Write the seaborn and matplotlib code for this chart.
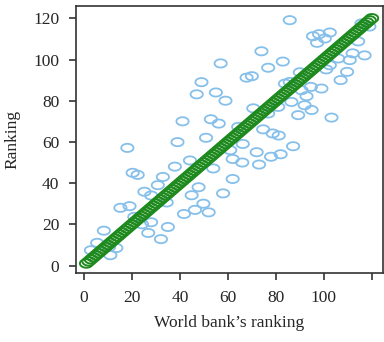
import numpy as np
import pandas as pd
import matplotlib
matplotlib.use('Agg')
import matplotlib.pyplot as plt
from matplotlib.path import Path
import seaborn as sns

# 数据：世界银行排名 vs 模型排名
wb_rank = [2.9, 5.5, 8.3, 10.5, 13.5, 11.0, 15.2, 19.0, 18.1, 20.3,
           22.4, 21.0, 24.2, 25.2, 28.0, 26.8, 28.0, 30.8, 32.9, 32.1,
           34.5, 35.0, 37.9, 39.0, 41.1, 41.7, 44.2, 44.9, 46.3, 47.0,
           47.8, 49.0, 49.8, 50.9, 52.0, 52.9, 53.9, 55.0, 56.2, 57.0,
           58.0, 59.0, 61.0, 62.0, 62.0, 64.3, 66.2, 66.0, 67.8, 70.0,
           70.6, 72.0, 73.0, 74.0, 74.7, 76.8, 76.8, 78.0, 78.7, 81.2,
           81.0, 82.0, 82.9, 83.8, 85.8, 85.8, 86.5, 87.2, 89.3, 90.0,
           90.7, 92.8, 92.0, 94.9, 94.6, 95.5, 97.2, 98.0, 99.0, 100.4,
           101.0, 102.5, 102.5, 103.2, 106.0, 107.0, 109.7, 110.8, 112.0, 114.3,
           115.7, 117.0, 119.0]
our_rank = [7.4, 11.0, 16.9, 9.0, 8.5, 5.0, 28.0, 28.8, 57.1, 45.0,
            44.0, 23.6, 20.0, 35.8, 34.0, 15.8, 21.0, 39.0, 43.0, 12.8,
            30.6, 18.7, 48.0, 59.9, 70.0, 25.0, 51.0, 34.1, 27.0, 83.1,
            38.0, 89.0, 30.0, 62.0, 25.8, 71.0, 47.1, 84.0, 68.9, 98.1,
            35.0, 80.0, 56.0, 51.7, 42.0, 67.3, 59.0, 50.0, 91.2, 91.9,
            76.3, 55.0, 49.0, 104.0, 66.1, 96.0, 73.8, 52.8, 64.1, 63.1,
            77.0, 54.0, 99.0, 88.3, 89.1, 119.1, 79.4, 57.9, 73.0, 93.8,
            85.1, 82.2, 77.8, 75.5, 86.7, 111.3, 108.1, 112.3, 85.9, 110.2,
            95.2, 113.1, 97.2, 71.8, 100.5, 90.0, 94.0, 99.7, 103.0, 108.8,
            117.5, 102.0, 116.0]
diag_rank = list(range(1, 121))

x_ticks = [0, 20, 40, 60, 80, 100, 120]
x_tick_labels = ['0', '20', '40', '60', '80', '100', '']
y_ticks = [0, 20, 40, 60, 80, 100, 120]

sns.set_style('ticks')
plt.rcParams['font.family'] = ['Liberation Serif', 'DejaVu Serif']

# 图片被横向拉伸过，圆圈呈椭圆
t = np.linspace(0, 2 * np.pi, 60)
ellipse = Path(np.column_stack([1.5 * np.cos(t), np.sin(t)]))

fig = plt.figure(figsize=(3.84, 3.42), dpi=100)
ax = fig.add_axes([0.198, 0.202, 0.799, 0.780])

df = pd.DataFrame({'wb': wb_rank, 'ours': our_rank})
diag = pd.DataFrame({'wb': diag_rank, 'ours': diag_rank})

sns.scatterplot(data=df, x='wb', y='ours', ax=ax, marker=ellipse, s=78,
                facecolors='none', edgecolor='#86c0ea', linewidth=1.3)
sns.scatterplot(data=diag, x='wb', y='ours', ax=ax, marker=ellipse, s=85,
                facecolors='none', edgecolor='#1e8a1e', linewidth=1.4)

ax.set_xlim(-3.3, 124.6)
ax.set_ylim(-3.6, 125.9)
ax.set_xticks(x_ticks)
ax.set_xticklabels(x_tick_labels)
ax.set_yticks(y_ticks)
ax.tick_params(labelsize=12.5, length=5, width=1.2, color='#333333', pad=7)
for sp in ax.spines.values():
    sp.set_linewidth(1.2)
    sp.set_color('#333333')

ax.set_xlabel('World bank’s ranking', fontsize=12.5, labelpad=7)
ax.set_ylabel('Ranking', fontsize=12.5, labelpad=9)

plt.savefig('out.png', dpi=100)
plt.close()
